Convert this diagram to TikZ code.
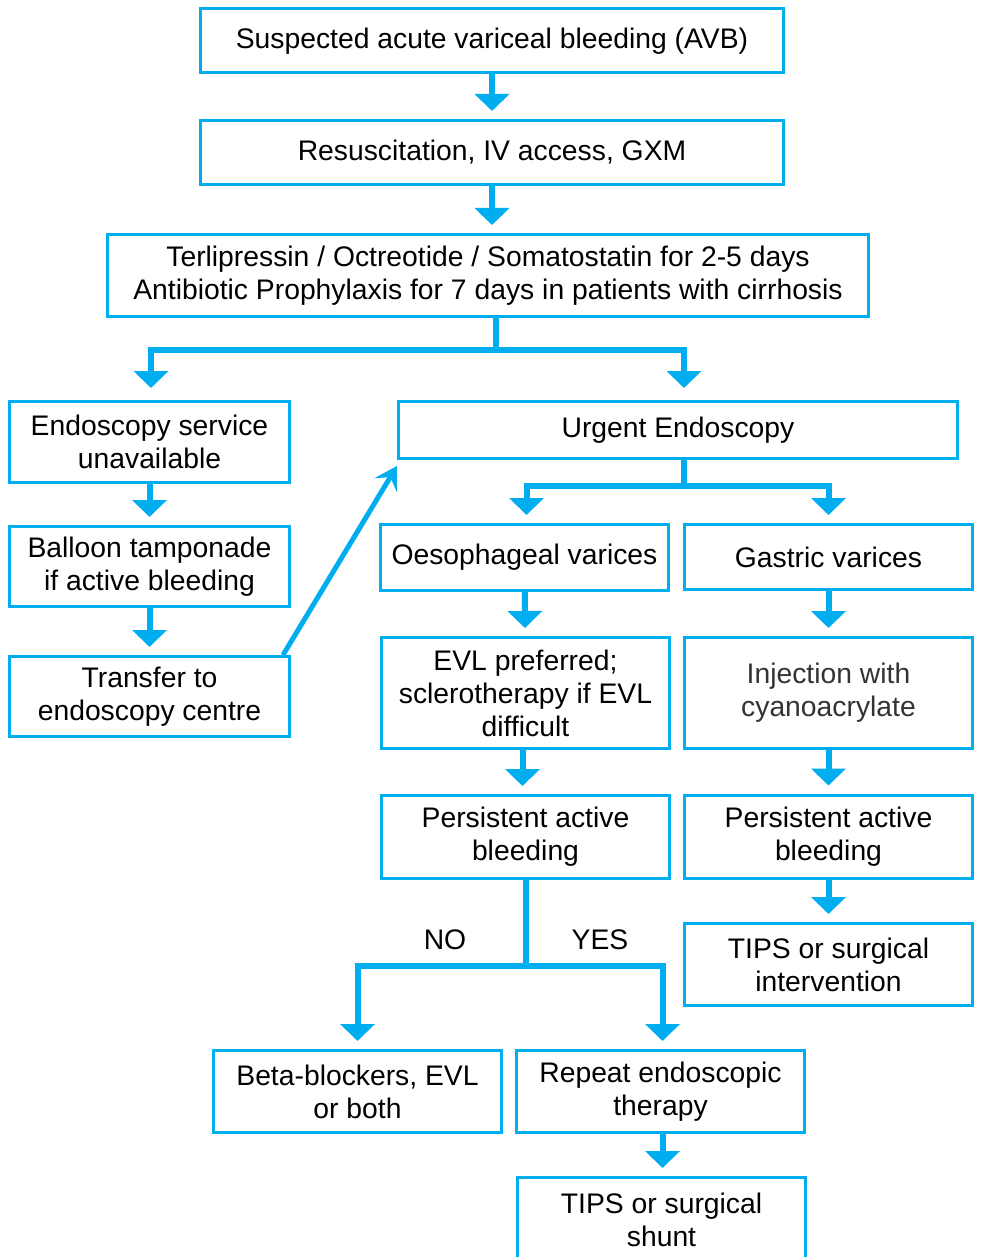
\documentclass[tikz,border=0pt]{standalone}
\usepackage{fontspec}
\setmainfont{Liberation Sans}
\usepackage{xcolor}
\usetikzlibrary{arrows.meta, positioning}
\definecolor{avbblue}{RGB}{0,174,239}

\begin{document}
\begin{tikzpicture}[
      x=1pt, y=-1pt,
      every node/.style={font=\fontsize{28.3}{33}\selectfont, align=center},
      box/.style={draw=avbblue, line width=3pt, inner sep=0pt, minimum width=288pt},
      flow/.style={draw=avbblue, line width=6pt, -{Triangle[width=34pt,length=17pt]}, shorten >=8pt},
      diag/.style={draw=avbblue, line width=5pt, -{Stealth[width=26pt,length=22pt,inset=9pt]}},
      plain/.style={draw=avbblue, line width=6pt}
    ]
      \useasboundingbox (0,0) rectangle (981,1257);
      \node[box, minimum width=583pt, minimum height=64pt] (avb) at (492,41) {Suspected acute variceal bleeding (AVB)};
      \node[box, minimum width=583pt, minimum height=64pt] (resus) at (492,152.5) {Resuscitation, IV access, GXM};
      \node[box, minimum width=761pt, minimum height=82pt] (terli) at (488,275.5)
        {Terlipressin / Octreotide / Somatostatin for 2-5 days\\Antibiotic Prophylaxis for 7 days in patients with cirrhosis};
      \node[box, minimum width=280pt, minimum height=81pt] (noendo) at (149.5,442) {Endoscopy service\\unavailable};
      \node[box, minimum width=280pt, minimum height=80pt] (balloon) at (149.5,566.5) {Balloon tamponade\\if active bleeding};
      \node[box, minimum width=280pt, minimum height=80pt] (transfer) at (149.5,696.5) {Transfer to\\endoscopy centre};
      \node[box, minimum width=559pt, minimum height=57pt] (urgent) at (678,430) {Urgent Endoscopy};
      \node[box, minimum height=66pt] (oeso) at (524.5,557.5) {Oesophageal varices};
      \node[box, minimum height=65pt] (gastric) at (828.5,557) {Gastric varices};
      \node[box, minimum height=111pt] (evl) at (525.5,693) {EVL preferred;\\sclerotherapy if EVL\\difficult};
      \node[box, minimum height=111pt, text=black!80] (inject) at (828.5,693) {Injection with\\cyanoacrylate};
      \node[box, minimum height=83pt] (persL) at (525.5,837) {Persistent active\\bleeding};
      \node[box, minimum height=83pt] (persR) at (828.5,836.5) {Persistent active\\bleeding};
      \node[box, minimum height=82pt] (tipsint) at (828.5,964.5) {TIPS or surgical\\intervention};
      \node[box, minimum height=82pt] (beta) at (357.5,1091.5) {Beta-blockers, EVL\\or both};
      \node[box, minimum height=82pt] (repeat) at (660.5,1091.5) {Repeat endoscopic\\therapy};
      \node[box, minimum height=84pt] (shunt) at (661.5,1219.5) {TIPS or surgical\\shunt};
      \node (no) at (445,940) {NO};
      \node (yes) at (600,940) {YES};

      \draw[flow] (avb) -- (resus);
      \draw[flow] (resus) -- ([xshift=4pt]terli.north);
      \draw[flow, shorten >=12pt] ([xshift=8pt]terli.south) -- ++(0,32) -| ([xshift=1.5pt]noendo.north);
      \draw[flow, shorten >=12pt] ([xshift=8pt]terli.south) -- ++(0,32) -| ([xshift=6pt]urgent.north);
      \draw[flow] (noendo) -- (balloon);
      \draw[flow] (balloon) -- (transfer);
      \draw[diag] ([xshift=-8pt]transfer.north east) -- ([yshift=-6pt]urgent.south west);
      \draw[flow] ([xshift=6pt]urgent.south) -- ++(0,26) -| ([xshift=2pt]oeso.north);
      \draw[flow] ([xshift=6pt]urgent.south) -- ++(0,26) -| (gastric.north);
      \draw[flow] (oeso) -- (evl);
      \draw[flow] (gastric) -- (inject);
      \draw[flow] ([xshift=-3pt]evl.south) -- ([xshift=-3pt]persL.north);
      \draw[flow] (inject) -- (persR);
      \draw[flow] (persR) -- (tipsint);
      \draw[flow] (persL.south) -- ++(0,86) -| (beta.north);
      \draw[flow] (persL.south) -- ++(0,86) -| ([xshift=2pt]repeat.north);
      \draw[flow] ([xshift=2pt]repeat.south) -- ([xshift=1pt]shunt.north);
\end{tikzpicture}
\end{document}
